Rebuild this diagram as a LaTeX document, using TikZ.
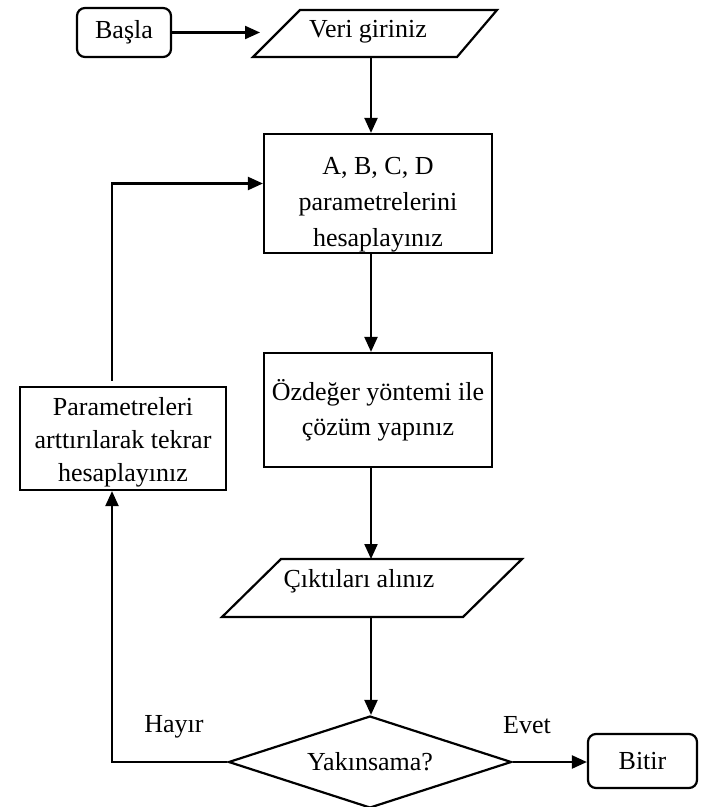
\documentclass[tikz,border=0pt]{standalone}
\usepackage{fontspec}
\setmainfont{Liberation Serif}
\usetikzlibrary{arrows.meta,shapes.geometric,positioning}

\begin{document}
\begin{tikzpicture}[x=0.5pt,y=-0.5pt,
    font=\fontsize{13}{17.5}\selectfont,
    line width=1.1pt,
    arr/.style={-{Triangle[length=7.5pt,width=6.5pt]}},
    kutu/.style={draw,align=center,inner sep=0pt},
    ucbox/.style={draw,rounded corners=4pt,inner sep=0pt}]
	%\draw[help lines,step=50] (0,0) grid (704,807);
	\useasboundingbox (0,0) rectangle (704,807);

	% baslangic ve veri girisi
	\node[ucbox,minimum width=47pt,minimum height=24.5pt] (start) at (124,32.5) {Başla};
	\draw (300,10) -- (497,10) -- (457,57) -- (253,57) -- cycle;
	\node (veri) at (368,32) {Veri giriniz};
	\coordinate (veri-w) at (260,32.5);
	\coordinate (veri-s) at (371,57);

	% hesaplama kutulari
	\node[kutu,minimum width=114pt,minimum height=59.5pt,font=\fontsize{13}{18}\selectfont] (hesap) at (378,193.5) {\rule{0pt}{20pt}A, B, C, D\\parametrelerini\\hesaplayınız};
	\node[kutu,minimum width=114pt,minimum height=57pt] (ozdeger) at (378,410) {Özdeğer yöntemi ile\\çözüm yapınız};
	\node[kutu,minimum width=103pt,minimum height=51.5pt,font=\fontsize{13}{16.5}\selectfont] (artir) at (123,438.5) {\rule{0pt}{13pt}Parametreleri\\arttırılarak tekrar\\hesaplayınız};

	% cikti
	\draw (281,559) -- (522,559) -- (463,617) -- (222,617) -- cycle;
	\node (cikti) at (359,581) {Çıktıları alınız};
	\coordinate (cikti-n) at (371,559);
	\coordinate (cikti-s) at (371,617);

	% karar ve bitis
	\node[draw,diamond,aspect=3.08,inner sep=0pt,minimum width=141.5pt,minimum height=46pt] (yakin) at (370,762) {Yakınsama?};
	\node[ucbox,minimum width=54.5pt,minimum height=27pt] (bitir) at (642.5,761) {Bitir};
	\node (hayir) at (174,727) {Hayır};
	\node (evet) at (527,725) {Evet};
	\coordinate (donus) at (112,762);

	% baglantilar
	\draw[arr] (start.east) -- (veri-w);
	\draw[arr] (veri-s) -- (veri-s |- hesap.north);
	\draw[arr] (veri-s |- hesap.south) -- (veri-s |- ozdeger.north);
	\draw[arr] (veri-s |- ozdeger.south) -- (cikti-n);
	\draw[arr] (cikti-s) -- (cikti-s |- yakin.north);
	\draw[arr] (yakin.east) -- (yakin.east -| bitir.west);
	\draw[arr] (yakin.west) -- (donus) -- (donus |- artir.south);
	\draw[arr] ([yshift=2.5pt]donus |- artir.north) |- ([yshift=5pt]hesap.west);
\end{tikzpicture}
\end{document}
